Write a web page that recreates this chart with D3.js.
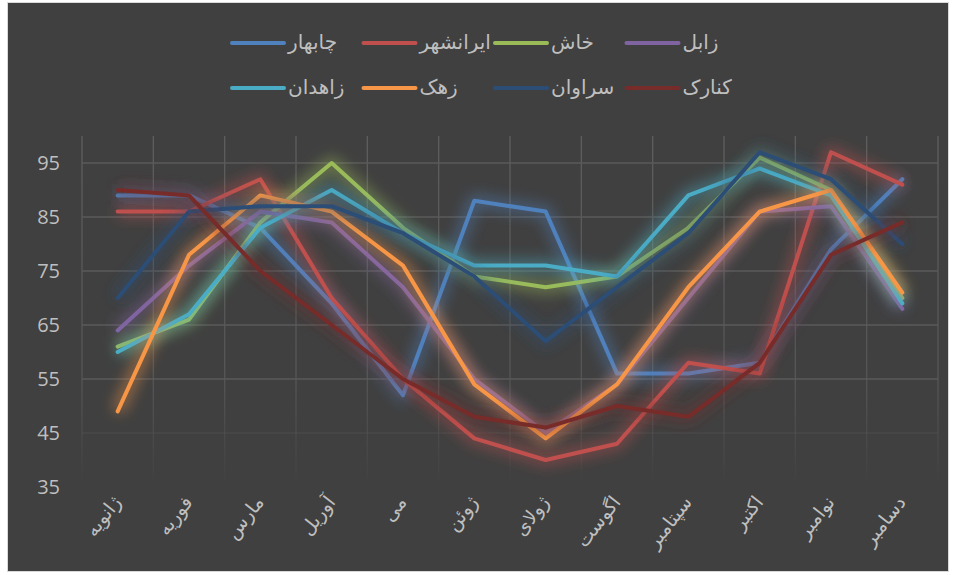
<!DOCTYPE html>
<html>
<head>
<meta charset="utf-8">
<script src="https://cdn.jsdelivr.net/npm/d3@7"></script>
<style>
  body { margin: 0; background: #fff; }
  text { font-family: "Open Sans", "DejaVu Sans", sans-serif; fill: #bfbfbf; }
</style>
</head>
<body>
<div id="chart"></div>
<script>
// month labels (x axis)
const months = ["ژانویه", "فوریه", "مارس", "آوریل", "می", "ژوئن", "ژولای", "اگوست", "سپتامبر", "اکتبر", "نوامبر", "دسامبر"];

// one array per city
const chabahar  = [89, 89, 83, 69, 52, 88, 86, 56, 56, 58, 79, 92];
const iranshahr = [86, 86, 92, 70, 55, 44, 40, 43, 58, 56, 97, 91];
const khash     = [61, 66, 84, 95, 83, 74, 72, 74, 83, 96, 90, 70];
const zabol     = [64, 76, 86, 84, 72, 55, 45, 54, 70, 86, 87, 68];
const zahedan   = [60, 67, 83, 90, 82, 76, 76, 74, 89, 94, 89, 69];
const zahak     = [49, 78, 89, 86, 76, 54, 44, 54, 72, 86, 90, 71];
const saravan   = [70, 86, 87, 87, 82, 74, 62, 72, 82, 97, 92, 80];
const konarak   = [90, 89, 75, 65, 55, 48, 46, 50, 48, 58, 78, 84];

const cities = ["چابهار", "ایرانشهر", "خاش", "زابل", "زاهدان", "زهک", "سراوان", "کنارک"];
const colors = ["#4f81bd", "#c0504d", "#9bbb59", "#8064a2", "#4bacc6", "#f79646", "#2c4d75", "#772c2a"];
const yTicks = [35, 45, 55, 65, 75, 85, 95];

const series = [chabahar, iranshahr, khash, zabol, zahedan, zahak, saravan, konarak]
    .map((values, i) => ({ name: cities[i], color: colors[i], values }));

const width = 955,
    height = 575,
    margin = ({ top: 136, right: 17, bottom: 88, left: 82 });

const svg = d3.select("#chart")
    .append("svg")
    .attr("width", width)
    .attr("height", height);

// chart background + frame
svg.append("rect")
    .attr("x", 7.5).attr("y", 2.5)
    .attr("width", 941).attr("height", 569)
    .attr("fill", "#404040")
    .attr("stroke", "#d9d9d9");

const defs = svg.append("defs");
defs.append("filter")
    .attr("id", "glow")
    .attr("filterUnits", "userSpaceOnUse")
    .attr("x", 0).attr("y", 0).attr("width", width).attr("height", height)
    .append("feGaussianBlur")
    .attr("stdDeviation", 7);

const vgrad = defs.append("linearGradient")
    .attr("id", "vfade")
    .attr("gradientUnits", "userSpaceOnUse")
    .attr("x1", 0).attr("x2", 0)
    .attr("y1", margin.top).attr("y2", height - margin.bottom);
vgrad.append("stop").attr("offset", "0%").attr("stop-color", "#5e5e5e");
vgrad.append("stop").attr("offset", "70%").attr("stop-color", "#555");
vgrad.append("stop").attr("offset", "100%").attr("stop-color", "#404040");

let x = d3.scaleBand()
    .domain(months)
    .range([margin.left, width - margin.right]);

let y = d3.scaleLinear()
    .domain([35, 100])
    .range([height - margin.bottom, margin.top]);

// vertical gridlines on band edges
const edges = months.map(m => x(m)).concat([x.range()[1]]);
svg.append("g")
    .selectAll("line")
    .data(edges)
    .join("line")
    .attr("x1", d => d).attr("x2", d => d)
    .attr("y1", margin.top).attr("y2", height - margin.bottom)
    .attr("stroke", "url(#vfade)")
    .attr("stroke-width", 1.3);

// horizontal gridlines
svg.append("g")
    .selectAll("line")
    .data(yTicks.filter(d => d >= 45))
    .join("line")
    .attr("x1", margin.left).attr("x2", width - margin.right)
    .attr("y1", d => y(d)).attr("y2", d => y(d))
    .attr("stroke", "#5a5a5a")
    .attr("stroke-opacity", d => d === 45 ? 0.35 : 1)
    .attr("stroke-width", 1.3);

// y axis labels
const yAxis = svg.append("g")
    .attr("transform", `translate(${margin.left - 22},0)`)
    .call(d3.axisLeft(y).tickValues(yTicks).tickSize(0).tickPadding(0));
yAxis.select(".domain").remove();
yAxis.selectAll("text")
    .attr("font-size", 20)
    .attr("fill", "#bfbfbf")
    .attr("font-family", "\"Open Sans\", \"DejaVu Sans\", sans-serif");

// x axis labels, rotated
const xAxis = svg.append("g")
    .attr("transform", `translate(0,${height - margin.bottom + 12})`)
    .call(d3.axisBottom(x).tickSize(0).tickPadding(0));
xAxis.select(".domain").remove();
xAxis.selectAll("text")
    .attr("font-size", 19)
    .attr("fill", "#bfbfbf")
    .attr("font-family", "\"DejaVu Sans\", sans-serif")
    .attr("text-anchor", "end")
    .attr("dy", "0.3em")
    .attr("transform", "rotate(-52)");

let line = d3.line()
    .x((d, i) => x(months[i]) + x.bandwidth() / 2)
    .y(d => y(d));

for (let s of series) {
    let g = svg.append("g").attr("class", "city");
    // soft glow under each line
    g.append("path")
        .attr("d", line(s.values))
        .attr("fill", "none")
        .attr("stroke", s.color)
        .attr("stroke-width", 13)
        .attr("stroke-opacity", 0.45)
        .attr("stroke-linejoin", "round")
        .attr("filter", "url(#glow)");
    g.append("path")
        .attr("d", line(s.values))
        .attr("fill", "none")
        .attr("stroke", s.color)
        .attr("stroke-width", 4)
        .attr("stroke-linejoin", "round")
        .attr("stroke-linecap", "round");
}

// legend: 2 rows x 4
const legend = svg.append("g");
series.forEach((s, i) => {
    let lx = 232 + (i % 4) * 131.5,
        ly = 43 + Math.floor(i / 4) * 45;
    let item = legend.append("g").attr("transform", `translate(${lx},${ly})`);
    item.append("line")
        .attr("x1", 0).attr("x2", 52)
        .attr("stroke", s.color)
        .attr("stroke-width", 4)
        .attr("stroke-linecap", "round");
    item.append("text")
        .attr("x", 56)
        .attr("dy", "0.3em")
        .attr("font-size", 20)
        .attr("font-family", "\"DejaVu Sans\", sans-serif")
        .text(s.name);
});
</script>
</body>
</html>
